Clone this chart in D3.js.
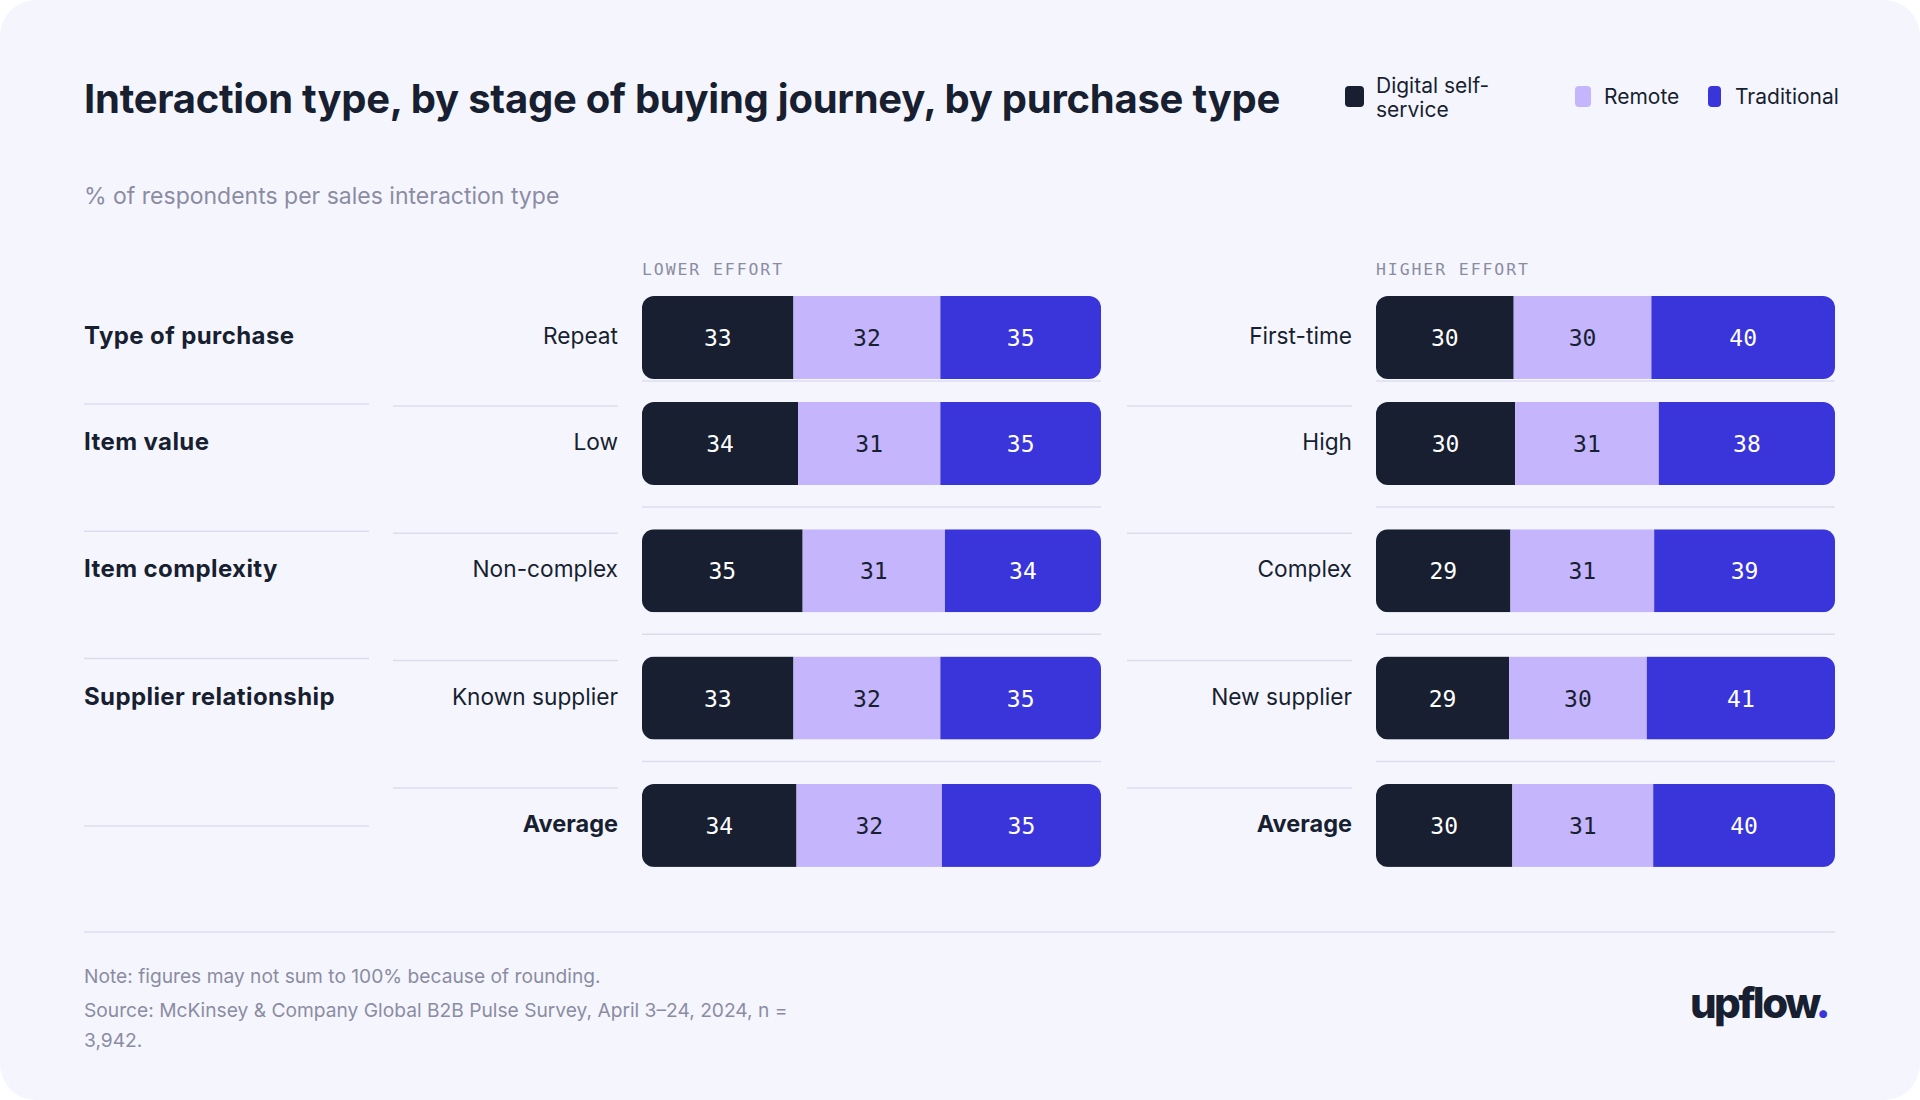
<!DOCTYPE html>
<html>
<head>
<meta charset="utf-8">
<script src="https://cdn.jsdelivr.net/npm/d3@7"></script>
<style>
  html, body { margin: 0; padding: 0; background: #ffffff; }
  svg { display: block; }
  text { font-family: Inter, "Noto Sans", sans-serif; }
  .mono { font-family: "DejaVu Sans Mono", "Liberation Mono", monospace; }
</style>
</head>
<body>
<svg id="main-svg" width="1920" height="1100"></svg>
<script>
// chart data
var categories = ['Type of purchase', 'Item value', 'Item complexity', 'Supplier relationship'];
var lowerLabels = ['Repeat', 'Low', 'Non-complex', 'Known supplier', 'Average'];
var higherLabels = ['First-time', 'High', 'Complex', 'New supplier', 'Average'];
var seriesNames = ['Digital self-service', 'Remote', 'Traditional'];

var lowerDigital = [33, 34, 35, 33, 34];
var lowerRemote = [32, 31, 31, 32, 32];
var lowerTraditional = [35, 35, 34, 35, 35];

var higherDigital = [30, 30, 29, 29, 30];
var higherRemote = [30, 31, 31, 30, 31];
var higherTraditional = [40, 38, 39, 41, 40];

var groupTitles = ['LOWER EFFORT', 'HIGHER EFFORT'];

var colors = ['#171f30', '#c4b5fd', '#3935db'];
var textColors = ['#ffffff', '#171f30', '#ffffff'];
var ink = '#171f30';
var grey = '#8b8ca3';
var rule = '#dcdcef';

var svg = d3.select('#main-svg');

// card background
svg.append('rect')
    .attr('x', 0).attr('y', 0)
    .attr('width', 1920).attr('height', 1100)
    .attr('rx', 36).attr('ry', 36)
    .attr('fill', '#f5f6fd');

// title + subtitle
svg.append('text')
    .attr('x', 84).attr('y', 113)
    .attr('font-size', 40).attr('font-weight', 700)
    .attr('letter-spacing', -0.25)
    .attr('fill', ink)
    .text('Interaction type, by stage of buying journey, by purchase type');

svg.append('text')
    .attr('x', 84).attr('y', 204)
    .attr('font-size', 23)
    .attr('fill', grey)
    .text('% of respondents per sales interaction type');

// legend
var legendItems = [
    { x: 1345, w: 19, tx: 1376, lines: ['Digital self-', 'service'] },
    { x: 1575, w: 16, tx: 1604, lines: ['Remote'] },
    { x: 1708, w: 13, tx: 1735, lines: ['Traditional'] }
];
var legend = svg.append('g').attr('id', 'legend');
legendItems.forEach(function(d, i) {
    legend.append('rect')
        .attr('x', d.x).attr('y', 86)
        .attr('width', d.w).attr('height', 21)
        .attr('rx', 4).attr('ry', 4)
        .attr('fill', colors[i]);
    var t = legend.append('text')
        .attr('font-size', 21)
        .attr('fill', ink);
    var y0 = d.lines.length > 1 ? 93 : 104;
    d.lines.forEach(function(line, j) {
        t.append('tspan')
            .attr('x', d.tx)
            .attr('y', y0 + j * 24)
            .text(line);
    });
});

// layout
var barH = 83;
function rowTop(i) {
    return i === 0 ? 296 : 402 + (i - 1) * 127.3;
}
var groups = [
    { labels: lowerLabels, values: [lowerDigital, lowerRemote, lowerTraditional], barX: 642, labelX0: 393, labelX1: 618 },
    { labels: higherLabels, values: [higherDigital, higherRemote, higherTraditional], barX: 1376, labelX0: 1127, labelX1: 1352 }
];
var barW = 459;
var nRows = lowerLabels.length;

var defs = svg.append('defs');

function hline(x0, x1, y) {
    svg.append('line')
        .attr('x1', x0).attr('x2', x1)
        .attr('y1', y).attr('y2', y)
        .attr('stroke', rule)
        .attr('stroke-width', 1.5);
}

// category column (left)
categories.forEach(function(c, i) {
    svg.append('text')
        .attr('x', 84)
        .attr('y', rowTop(i) + 48)
        .attr('font-size', 24).attr('font-weight', 700)
        .attr('letter-spacing', 0.4)
        .attr('fill', ink)
        .text(c);
    if (i > 0) hline(84, 369, rowTop(i) + 2);
});
hline(84, 369, rowTop(nRows - 1) + 42);

groups.forEach(function(g, gi) {
    svg.append('text')
        .attr('class', 'mono')
        .attr('x', g.barX).attr('y', 275)
        .attr('font-size', 16.5)
        .attr('letter-spacing', 1.9)
        .attr('fill', grey)
        .text(groupTitles[gi]);

    for (var i = 0; i < nRows; i++) {
        var top = rowTop(i);
        var isAvg = i === nRows - 1;

        // row label
        svg.append('text')
            .attr('x', g.labelX1)
            .attr('y', top + 48)
            .attr('text-anchor', 'end')
            .attr('font-size', isAvg ? 23.5 : 22.7)
            .attr('font-weight', isAvg ? 700 : 400)
            .attr('fill', ink)
            .text(g.labels[i]);

        if (i > 0) hline(g.labelX0, g.labelX1, top + 4);

        // stacked bar, scaled to row total
        var vals = g.values.map(function(s) { return s[i]; });
        var total = d3.sum(vals);
        var x = d3.scaleLinear().domain([0, total]).range([g.barX, g.barX + barW]);
        var stacked = [];
        var acc = 0;
        vals.forEach(function(v, k) {
            stacked.push({ k: k, v: v, x0: acc, x1: acc + v });
            acc += v;
        });

        var clipId = 'clip_' + gi + '_' + i;
        defs.append('clipPath').attr('id', clipId)
            .append('rect')
            .attr('x', g.barX).attr('y', top)
            .attr('width', barW).attr('height', barH)
            .attr('rx', 12).attr('ry', 12);

        var bar = svg.append('g')
            .attr('id', 'bar_' + gi + '_' + i)
            .attr('clip-path', 'url(#' + clipId + ')');

        bar.selectAll('rect')
            .data(stacked)
            .enter().append('rect')
            .attr('x', function(d) { return x(d.x0); })
            .attr('y', top)
            .attr('width', function(d) { return x(d.x1) - x(d.x0); })
            .attr('height', barH)
            .attr('fill', function(d) { return colors[d.k]; });

        svg.selectAll(null)
            .data(stacked)
            .enter().append('text')
            .attr('class', 'mono')
            .attr('x', function(d) { return (x(d.x0) + x(d.x1)) / 2; })
            .attr('y', top + 50)
            .attr('text-anchor', 'middle')
            .attr('font-size', 23)
            .attr('fill', function(d) { return textColors[d.k]; })
            .text(function(d) { return d.v; });

        // rule under bar column
        if (i === 0) hline(g.barX, g.barX + barW, top + barH + 2);
        else if (!isAvg) hline(g.barX, g.barX + barW, top + barH + 22);
    }
});

// footer
hline(84, 1835, 932);

var notes = ['Note: figures may not sum to 100% because of rounding.',
    'Source: McKinsey & Company Global B2B Pulse Survey, April 3\u201324, 2024, n =',
    '3,942.'];
var noteY = [983, 1017, 1047];
notes.forEach(function(n, i) {
    svg.append('text')
        .attr('x', 84).attr('y', noteY[i])
        .attr('font-size', 19.2)
        .attr('fill', grey)
        .text(n);
});

var logo = svg.append('text')
    .attr('x', 1690).attr('y', 1018)
    .attr('font-size', 42).attr('font-weight', 800)
    .attr('letter-spacing', -2.6)
    .attr('fill', ink);
logo.append('tspan').text('upflow');
logo.append('tspan').attr('fill', colors[2]).text('.');
</script>
</body>
</html>
